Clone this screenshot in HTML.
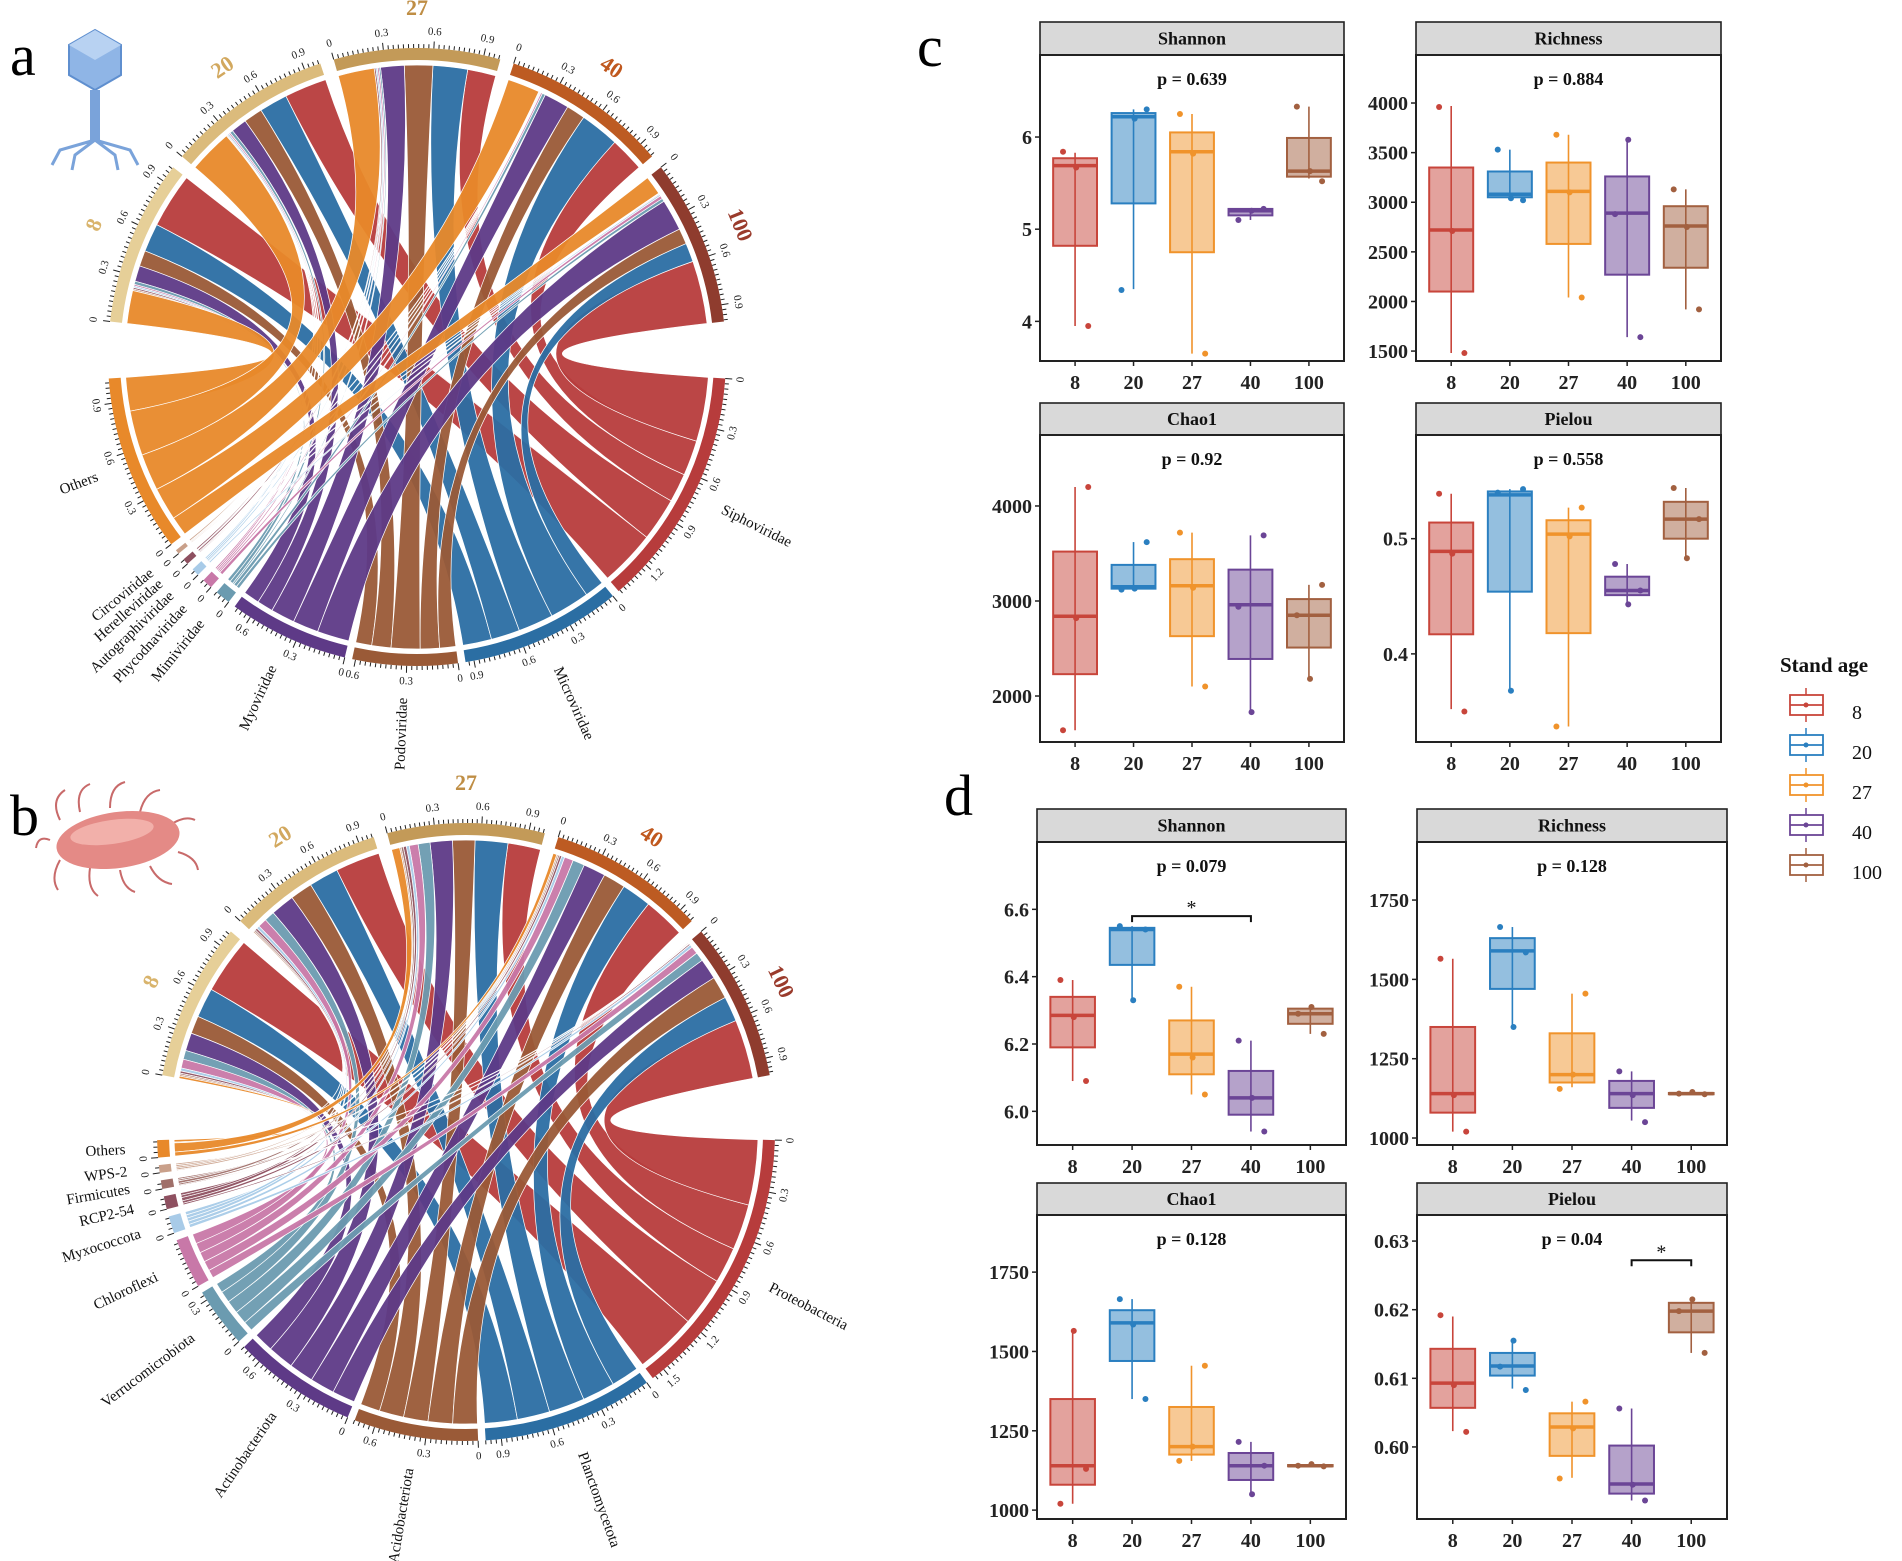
<!DOCTYPE html>
<html><head><meta charset="utf-8"><style>
html,body{margin:0;padding:0;background:#fff;}
svg{display:block;font-family:"Liberation Serif",serif;}
</style></head><body>
<svg id="fig" xmlns="http://www.w3.org/2000/svg" width="1902" height="1561" viewBox="0 0 1902 1561">
<rect width="1902" height="1561" fill="#fff"/>
<text x="10" y="75" font-size="58">a</text>
<text x="10" y="835" font-size="58">b</text>
<text x="917" y="66" font-size="58">c</text>
<text x="944" y="815" font-size="58">d</text>
<g>
<polygon points="95,30 121,45 121,75 95,90 69,75 69,45" fill="#8fb5e6" stroke="#5f8fcf" stroke-width="2"/>
<polygon points="95,30 121,45 95,60 69,45" fill="#b8d2f2"/>
<rect x="90" y="90" width="10" height="50" fill="#7aa3da"/>
<path d="M95 140 L60 150 L52 165 M95 140 L75 155 L72 170 M95 140 L115 155 L118 170 M95 140 L130 150 L138 165" stroke="#7aa3da" stroke-width="3" fill="none"/>
</g>
<g>
<path d="M60 820 q-10 -20 5 -30 M80 812 q-5 -22 10 -28 M110 808 q0 -22 15 -26 M140 812 q5 -20 20 -22 M170 825 q15 -10 25 -5 M60 860 q-10 18 -2 30 M90 868 q-3 20 8 28 M120 870 q3 18 15 22 M150 866 q8 16 22 18 M178 852 q18 5 20 18 M50 840 q-12 -5 -14 8" stroke="#c86a6a" stroke-width="2" fill="none"/>
<ellipse cx="118" cy="840" rx="62" ry="28" fill="#e48a86" transform="rotate(-8 118 840)"/>
<ellipse cx="112" cy="832" rx="42" ry="12" fill="#f2b0aa" transform="rotate(-8 112 832)"/>
</g>
<g id="chords"></g>
<g id="boxes"></g>
</svg>
<script>
// ---------------- chord data ----------------
const chordAges = ['8','20','27','40','100'];
const phageTaxa = ['Siphoviridae','Microviridae','Podoviridae','Myoviridae','Mimiviridae','Phycodnaviridae','Autographiviridae','Herelleviridae','Circoviridae','Others'];
const phageRow8   = [0.35,0.18,0.10,0.10,0.02,0.01,0.01,0.01,0.01,0.21];
const phageRow20  = [0.27,0.18,0.12,0.10,0.02,0.01,0.01,0.005,0.005,0.28];
const phageRow27  = [0.18,0.22,0.18,0.15,0.01,0.01,0.01,0.01,0.0,0.23];
const phageRow40  = [0.22,0.25,0.12,0.16,0.02,0.01,0.005,0.005,0.005,0.205];
const phageRow100 = [0.40,0.12,0.10,0.20,0.02,0.02,0.01,0.005,0.005,0.12];
const bactTaxa = ['Proteobacteria','Planctomycetota','Acidobacteriota','Actinobacteriota','Verrucomicrobiota','Chloroflexi','Myxococcota','RCP2-54','Firmicutes','WPS-2','Others'];
const bactRow8   = [0.38,0.20,0.12,0.12,0.06,0.06,0.02,0.015,0.01,0.01,0.015];
const bactRow20  = [0.30,0.20,0.15,0.16,0.07,0.06,0.02,0.015,0.01,0.01,0.005];
const bactRow27  = [0.22,0.22,0.15,0.15,0.08,0.06,0.02,0.02,0.015,0.01,0.055];
const bactRow40  = [0.28,0.20,0.15,0.15,0.08,0.06,0.02,0.015,0.01,0.01,0.025];
const bactRow100 = [0.40,0.17,0.15,0.14,0.06,0.05,0.02,0.01,0.005,0.005,0.0];

const NS='http://www.w3.org/2000/svg';
function mk(tag, attrs, parent){const e=document.createElementNS(NS,tag);for(const k in attrs)e.setAttribute(k,attrs[k]);if(parent)parent.appendChild(e);return e;}
function P(cx,cy,r,a){const t=a*Math.PI/180;return [cx+r*Math.sin(t), cy-r*Math.cos(t)];}
function f(p){return p[0].toFixed(2)+' '+p[1].toFixed(2);}

const ageTrack=['#e6cf98','#dbbb7c','#c39a58','#bd5b22','#8f3c2e'];
const ageText=['#d9b46c','#d2a85e','#bf8e45','#c0581e','#9a3b2c'];
const phageCols=['#b73c3c','#2b6ea3','#9a5a37','#5e3a87','#6b9bb0','#c878a8','#a8cbe8','#8e5060','#c9a08a','#e8892a'];
const bactCols=['#b73c3c','#2b6ea3','#9a5a37','#5e3a87','#6b9bb0','#c878a8','#a8cbe8','#8e5060','#a0706a','#c9a08a','#e8892a'];

function drawChord(g, cx, cy, topS, topE, botS, botE, rows, taxa, cols, name){
  const rIn=292, t1=297, t2=309;
  const gT=2.6, gB=1.4;
  const rowSums=rows.map(r=>r.reduce((a,b)=>a+b,0));
  const colSums=taxa.map((_,j)=>rows.reduce((a,r)=>a+r[j],0));
  const kT=(topE-topS-gT*(rows.length-1))/rowSums.reduce((a,b)=>a+b,0);
  const kB=(botE-botS-gB*(taxa.length-1))/colSums.reduce((a,b)=>a+b,0);
  const topStart=[];let a=topS;
  rowSums.forEach(s=>{topStart.push(a);a+=s*kT+gT;});
  const botStart=[];a=botS;
  colSums.forEach(s=>{botStart.push(a);a+=s*kB+gB;});
  // ribbon positions
  const srcPos={}, dstPos={};
  rows.forEach((r,i)=>{let p=topStart[i];for(let j=taxa.length-1;j>=0;j--){srcPos[i+'_'+j]=[p,p+r[j]*kT];p+=r[j]*kT;}});
  taxa.forEach((_,j)=>{let p=botStart[j];for(let i=rows.length-1;i>=0;i--){dstPos[i+'_'+j]=[p,p+rows[i][j]*kB];p+=rows[i][j]*kB;}});
  const rg=mk('g',{},g);
  
  
  for(let j=0;j<taxa.length;j++){
    for(let i=0;i<rows.length;i++){
      if(rows[i][j]<=0)continue;
      const s=srcPos[i+'_'+j], d=dstPos[i+'_'+j];
      const c=f([cx,cy]);
      const dd='M'+f(P(cx,cy,rIn,s[0]))+' A'+rIn+' '+rIn+' 0 0 1 '+f(P(cx,cy,rIn,s[1]))+
        ' Q'+c+' '+f(P(cx,cy,rIn,d[0]))+' A'+rIn+' '+rIn+' 0 0 1 '+f(P(cx,cy,rIn,d[1]))+
        ' Q'+c+' '+f(P(cx,cy,rIn,s[0]))+'Z';
      const pth=mk('path',{d:dd,fill:cols[j],'fill-opacity':0.95,stroke:'#fff','stroke-width':0.7},rg);
      
      
    }
  }
  function annulus(a1,a2){const lg=(a2-a1)>180?1:0;return 'M'+f(P(cx,cy,t2,a1))+' A'+t2+' '+t2+' 0 '+lg+' 1 '+f(P(cx,cy,t2,a2))+' L'+f(P(cx,cy,t1,a2))+' A'+t1+' '+t1+' 0 '+lg+' 0 '+f(P(cx,cy,t1,a1))+'Z';}
  function ticks(a1,total,k,side){
    for(let v=0;v<=total+1e-9;v+=0.03){
      const ang=a1+v*k;
      const major=Math.abs((v/0.3)-Math.round(v/0.3))<1e-6;
      const ln=mk('line',{x1:P(cx,cy,t2,ang)[0],y1:P(cx,cy,t2,ang)[1],x2:P(cx,cy,t2+(major?7:4),ang)[0],y2:P(cx,cy,t2+(major?7:4),ang)[1],stroke:'#222','stroke-width':1},g);
      
      
      if(major){
        const p=P(cx,cy,t2+16,ang);
        const lbl=(Math.round(v*10)/10).toString();
        const rot=side==='top'?ang:ang+180;
        const tx=mk('text',{x:p[0],y:p[1],'font-size':11,'text-anchor':'middle','dominant-baseline':'middle',fill:'#222',transform:'rotate('+rot.toFixed(1)+' '+p[0].toFixed(1)+' '+p[1].toFixed(1)+')'},g);
        tx.textContent=lbl;
        
        
      }
    }
  }
  rows.forEach((r,i)=>{
    const a1=topStart[i],a2=a1+rowSums[i]*kT;
    const tr=mk('path',{d:annulus(a1,a2),fill:ageTrack[i]},g);
    
    
    ticks(a1,rowSums[i],kT,'top');
    const m=(a1+a2)/2, p=P(cx,cy,t2+38,m);
    const tx=mk('text',{x:p[0],y:p[1],'font-size':22,'font-weight':'bold','text-anchor':'middle','dominant-baseline':'middle',fill:ageText[i],transform:'rotate('+m.toFixed(1)+' '+p[0].toFixed(1)+' '+p[1].toFixed(1)+')'},g);
    tx.textContent=chordAges[i];
    
    
  });
  taxa.forEach((t,j)=>{
    const a1=botStart[j],a2=a1+colSums[j]*kB;
    const tr=mk('path',{d:annulus(a1,a2),fill:cols[j]},g);
    
    
    ticks(a1,colSums[j],kB,'bottom');
    const m=(a1+a2)/2, p=P(cx,cy,t2+32,m);
    const right=m<180;
    const rot=right?m-90:m+90;
    const tx=mk('text',{x:p[0],y:p[1],'font-size':15,'text-anchor':right?'start':'end','dominant-baseline':'middle',fill:'#111',transform:'rotate('+rot.toFixed(1)+' '+p[0].toFixed(1)+' '+p[1].toFixed(1)+')'},g);
    tx.textContent=t;
    
    
  });
}
const chordsG=document.getElementById('chords');
const ga=mk('g',{},chordsG);


drawChord(ga,417,357,-83.4,83.4,94,266,[phageRow8,phageRow20,phageRow27,phageRow40,phageRow100],phageTaxa,phageCols,'phage');
const gb=mk('g',{},chordsG);


drawChord(gb,466,1132,-79.4,79.4,91.5,268.5,[bactRow8,bactRow20,bactRow27,bactRow40,bactRow100],bactTaxa,bactCols,'bacteria');

// ---------------- box plot data ----------------
const categories=['8','20','27','40','100'];
// c Shannon
const cShQ1=[4.82,5.28,4.75,5.15,5.57], cShMed=[5.69,6.22,5.84,5.20,5.63], cShQ3=[5.77,6.26,6.05,5.22,5.99], cShLo=[3.95,4.35,3.65,5.10,5.55], cShHi=[5.83,6.30,6.25,5.22,6.33];
const cShPts=[[5.84,5.67,3.95],[4.34,6.20,6.30],[6.25,5.82,3.65],[5.10,5.20,5.22],[6.33,5.63,5.52]];
// c Richness
const cRiQ1=[2100,3050,2580,2270,2340], cRiMed=[2720,3080,3110,2890,2760], cRiQ3=[3350,3310,3400,3260,2960], cRiLo=[1480,3030,2040,1640,1920], cRiHi=[3970,3530,3680,3630,3130];
const cRiPts=[[3960,2710,1480],[3530,3040,3020],[3680,3100,2040],[2880,3630,1640],[3130,2750,1920]];
// c Chao1
const cChQ1=[2230,3130,2630,2390,2510], cChMed=[2840,3150,3160,2960,2850], cChQ3=[3520,3380,3440,3330,3020], cChLo=[1640,3120,2100,1830,2180], cChHi=[4200,3620,3720,3690,3170];
const cChPts=[[1640,2820,4200],[3120,3130,3620],[3720,3140,2100],[2940,1830,3690],[2850,2180,3170]];
// c Pielou
const cPiQ1=[0.417,0.454,0.418,0.451,0.500], cPiMed=[0.489,0.538,0.504,0.455,0.517], cPiQ3=[0.514,0.541,0.516,0.467,0.532], cPiLo=[0.352,0.370,0.337,0.444,0.485], cPiHi=[0.539,0.543,0.527,0.478,0.544];
const cPiPts=[[0.539,0.487,0.350],[0.540,0.368,0.543],[0.337,0.502,0.527],[0.478,0.443,0.455],[0.544,0.483,0.517]];
// d Shannon
const dShQ1=[6.19,6.435,6.11,5.99,6.26], dShMed=[6.285,6.54,6.17,6.04,6.29], dShQ3=[6.34,6.545,6.27,6.12,6.305], dShLo=[6.09,6.33,6.05,5.94,6.23], dShHi=[6.39,6.55,6.37,6.21,6.31];
const dShPts=[[6.39,6.28,6.09],[6.55,6.33,6.54],[6.37,6.16,6.05],[6.21,6.04,5.94],[6.29,6.31,6.23]];
// d Richness
const dRiQ1=[1080,1470,1175,1095,1138], dRiMed=[1140,1590,1200,1140,1140], dRiQ3=[1350,1630,1330,1180,1142], dRiLo=[1020,1350,1160,1055,1138], dRiHi=[1565,1665,1455,1210,1145];
const dRiPts=[[1565,1135,1020],[1665,1350,1585],[1155,1200,1455],[1210,1135,1050],[1140,1145,1138]];
// d Chao1
const dChQ1=[1080,1470,1175,1095,1138], dChMed=[1140,1590,1200,1140,1140], dChQ3=[1350,1630,1325,1180,1142], dChLo=[1020,1350,1155,1050,1138], dChHi=[1565,1665,1455,1215,1145];
const dChPts=[[1020,1565,1130],[1665,1585,1350],[1155,1200,1455],[1215,1050,1140],[1140,1145,1138]];
// d Pielou
const dPiQ1=[0.6057,0.6104,0.5987,0.5932,0.6167], dPiMed=[0.6093,0.6118,0.6029,0.5946,0.6198], dPiQ3=[0.6143,0.6137,0.6049,0.6002,0.6210], dPiLo=[0.6023,0.6085,0.5955,0.5922,0.6137], dPiHi=[0.6190,0.6155,0.6066,0.6056,0.6215];
const dPiPts=[[0.6192,0.6090,0.6022],[0.6117,0.6155,0.6083],[0.5954,0.6027,0.6066],[0.6056,0.5945,0.5922],[0.6198,0.6215,0.6137]];

const boxCols=['#c8453b','#2a7fc0','#f0932b','#6b4596','#a26040'];
const boxesG=document.getElementById('boxes');

function panel(o){
  const g=mk('g',{},boxesG);
  
  
  const W=o.R-o.L;
  const xs=i=>o.L+(i+0.6)*W/5.2;
  const ys=v=>o.pB-(v-o.dom[0])/(o.dom[1]-o.dom[0])*(o.pB-o.pT);
  const bw=W/5.2*0.75;
  const hdr=mk('rect',{x:o.L,y:o.hT,width:W,height:o.pT-o.hT,fill:'#d9d9d9',stroke:'#222','stroke-width':1.6},g);
  
  
  const ht=mk('text',{x:o.L+W/2,y:(o.hT+o.pT)/2+6,'font-size':18,'font-weight':'bold','text-anchor':'middle',fill:'#111'},g);
  ht.textContent=o.title;
  
  
  const pr=mk('rect',{x:o.L,y:o.pT,width:W,height:o.pB-o.pT,fill:'#fff',stroke:'#222','stroke-width':2},g);
  
  
  const pt=mk('text',{x:o.L+W/2,y:o.pT+30,'font-size':18,'font-weight':'bold','text-anchor':'middle',fill:'#111'},g);
  pt.textContent=o.p;
  
  
  o.ticks.forEach((t,k)=>{
    const y=ys(t);
    const tl=mk('line',{x1:o.L-5,x2:o.L,y1:y,y2:y,stroke:'#222','stroke-width':1.5},g);
    
    
    const tx=mk('text',{x:o.L-8,y:y+7,'font-size':20,'font-weight':'bold','text-anchor':'end',fill:'#222'},g);
    tx.textContent=o.tickLabels[k];
    
    
  });
  categories.forEach((c,i)=>{
    const x=xs(i);
    const tl=mk('line',{x1:x,x2:x,y1:o.pB,y2:o.pB+5,stroke:'#222','stroke-width':1.5},g);
    
    
    const tx=mk('text',{x:x,y:o.pB+28,'font-size':20,'font-weight':'bold','text-anchor':'middle',fill:'#222'},g);
    tx.textContent=c;
    
    
    const col=boxCols[i];
    const wl=mk('line',{x1:x,x2:x,y1:ys(o.lo[i]),y2:ys(o.hi[i]),stroke:col,'stroke-width':1.6},g);
    
    
    const bx=mk('rect',{x:x-bw/2,y:ys(o.q3[i]),width:bw,height:Math.max(1,ys(o.q1[i])-ys(o.q3[i])),fill:col,'fill-opacity':0.5,stroke:col,'stroke-width':2},g);
    
    
    const md=mk('line',{x1:x-bw/2,x2:x+bw/2,y1:ys(o.med[i]),y2:ys(o.med[i]),stroke:col,'stroke-width':3.5},g);
    
    
    const jit=[-0.55,0.05,0.6];
    o.pts[i].forEach((v,k)=>{
      const ci=mk('circle',{cx:x+jit[k]*bw/2,cy:ys(v),r:3,fill:col},g);
      
      
    });
  });
  if(o.sig){
    const x1=xs(o.sig[0]),x2=xs(o.sig[1]),y=ys(o.sig[2]);
    const br=mk('path',{d:'M'+x1+' '+(y+6)+' V'+y+' H'+x2+' V'+(y+6),stroke:'#111','stroke-width':2,fill:'none'},g);
    
    
    const st=mk('text',{x:(x1+x2)/2,y:y-2,'font-size':20,'text-anchor':'middle',fill:'#111'},g);
    st.textContent='*';
    
    
  }
}
panel({name:'c-shannon',title:'Shannon',p:'p = 0.639',L:1040,R:1344,hT:22,pT:55,pB:361,dom:[3.57,6.89],ticks:[4,5,6],tickLabels:['4','5','6'],q1:cShQ1,med:cShMed,q3:cShQ3,lo:cShLo,hi:cShHi,pts:cShPts});
panel({name:'c-richness',title:'Richness',p:'p = 0.884',L:1416,R:1721,hT:22,pT:55,pB:361,dom:[1400,4484],ticks:[1500,2000,2500,3000,3500,4000],tickLabels:['1500','2000','2500','3000','3500','4000'],q1:cRiQ1,med:cRiMed,q3:cRiQ3,lo:cRiLo,hi:cRiHi,pts:cRiPts});
panel({name:'c-chao1',title:'Chao1',p:'p = 0.92',L:1040,R:1344,hT:403,pT:435,pB:742,dom:[1516,4747],ticks:[2000,3000,4000],tickLabels:['2000','3000','4000'],q1:cChQ1,med:cChMed,q3:cChQ3,lo:cChLo,hi:cChHi,pts:cChPts});
panel({name:'c-pielou',title:'Pielou',p:'p = 0.558',L:1416,R:1721,hT:403,pT:435,pB:742,dom:[0.3235,0.590],ticks:[0.4,0.5],tickLabels:['0.4','0.5'],q1:cPiQ1,med:cPiMed,q3:cPiQ3,lo:cPiLo,hi:cPiHi,pts:cPiPts});
panel({name:'d-shannon',title:'Shannon',p:'p = 0.079',L:1037,R:1346,hT:809,pT:842,pB:1145,dom:[5.90,6.80],ticks:[6.0,6.2,6.4,6.6],tickLabels:['6.0','6.2','6.4','6.6'],q1:dShQ1,med:dShMed,q3:dShQ3,lo:dShLo,hi:dShHi,pts:dShPts,sig:[1,3,6.58]});
panel({name:'d-richness',title:'Richness',p:'p = 0.128',L:1417,R:1727,hT:809,pT:842,pB:1145,dom:[978,1933],ticks:[1000,1250,1500,1750],tickLabels:['1000','1250','1500','1750'],q1:dRiQ1,med:dRiMed,q3:dRiQ3,lo:dRiLo,hi:dRiHi,pts:dRiPts});
panel({name:'d-chao1',title:'Chao1',p:'p = 0.128',L:1037,R:1346,hT:1183,pT:1215,pB:1519,dom:[972,1930],ticks:[1000,1250,1500,1750],tickLabels:['1000','1250','1500','1750'],q1:dChQ1,med:dChMed,q3:dChQ3,lo:dChLo,hi:dChHi,pts:dChPts});
panel({name:'d-pielou',title:'Pielou',p:'p = 0.04',L:1417,R:1727,hT:1183,pT:1215,pB:1519,dom:[0.5895,0.6338],ticks:[0.60,0.61,0.62,0.63],tickLabels:['0.60','0.61','0.62','0.63'],q1:dPiQ1,med:dPiMed,q3:dPiQ3,lo:dPiLo,hi:dPiHi,pts:dPiPts,sig:[3,4,0.6272]});

// legend
const lg=mk('g',{},boxesG);


const lt=mk('text',{x:1780,y:672,'font-size':21,'font-weight':'bold',fill:'#111'},lg);
lt.textContent='Stand age';


categories.forEach((c,i)=>{
  const cy=705+i*40, col=boxCols[i];
  const e=mk('g',{},lg);
  
  
  mk('line',{x1:1806,x2:1806,y1:cy-17,y2:cy+17,stroke:col,'stroke-width':1.5},e);
  mk('rect',{x:1790,y:cy-10,width:33,height:20,fill:'#fff',stroke:col,'stroke-width':1.8},e);
  mk('line',{x1:1790,x2:1823,y1:cy,y2:cy,stroke:col,'stroke-width':1.8},e);
  mk('circle',{cx:1806,cy:cy,r:2.5,fill:col},e);
  const t=mk('text',{x:1852,y:cy+14,'font-size':20,fill:'#111'},e);
  t.textContent=c;
});
</script>
</body></html>
